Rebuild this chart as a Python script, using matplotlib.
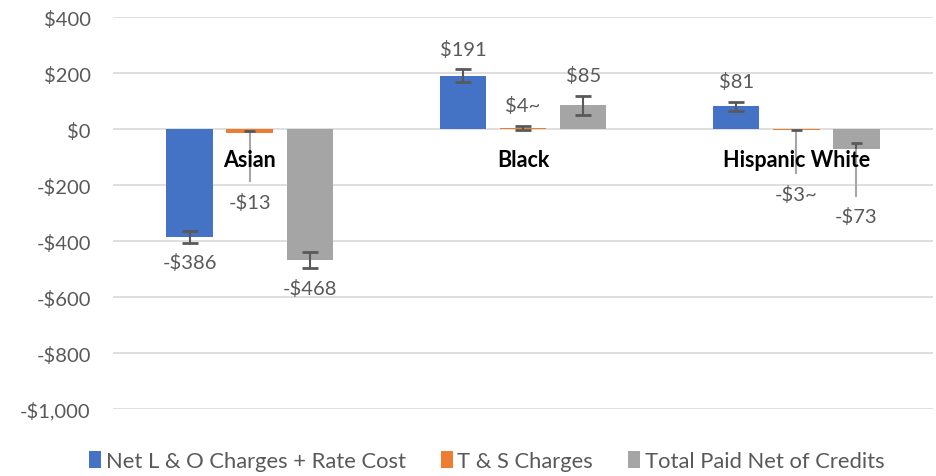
import numpy as np
import matplotlib.pyplot as plt

plt.rcParams['font.family'] = ['Lato', 'DejaVu Sans']

groups = ['Asian', 'Black', 'Hispanic White']
series = ['Net L & O Charges + Rate Cost', 'T & S Charges', 'Total Paid Net of Credits']
labels = [['-$386', '$191', '$81'],
          ['-$13', '$4~', '-$3~'],
          ['-$468', '$85', '-$73']]
values = [[-386, 191, 81],
          [-13, 4, -3],
          [-468, 85, -73]]
err_up = [[20, 22, 17],
          [5, 7, 1],
          [30, 34, 23]]
err_down = [[20, 22, 17],
            [177, 7, 158],
            [30, 34, 170]]
yticks = [400, 200, 0, -200, -400, -600, -800, -1000]
ytick_labels = ['$400', '$200', '$0', '-$200', '-$400', '-$600', '-$800', '-$1,000']

colors = ['#4472C4', '#ED7D31', '#A5A5A5']
text_c = '#595959'
cap_c = '#595959'
tail_c = '#A6A6A6'

fig = plt.figure(figsize=(9.36, 4.77), dpi=100)
ax = fig.add_axes([113 / 936, 1 - 410 / 477, 820 / 936, 392 / 477])

x = np.arange(len(groups))
offs = [-0.22, 0.0, 0.22]
w = 0.17
for s in range(3):
    xs = x + offs[s]
    ax.bar(xs, values[s], w, color=colors[s], label=series[s], zorder=2)
    for i in range(3):
        v = values[s][i]
        up = err_up[s][i]
        dn = err_down[s][i]
        if dn > 3 * up:
            # long lower tail without cap
            ax.vlines(xs[i], v - dn, v, color=tail_c, lw=1.5, zorder=3)
            ax.vlines(xs[i], v, v + up, color=cap_c, lw=1.5, zorder=3)
            ax.hlines(v + up, xs[i] - 0.02, xs[i] + 0.02, color=cap_c, lw=2, zorder=3)
        else:
            ax.errorbar(xs[i], v, yerr=[[dn], [up]], fmt='none', ecolor=cap_c,
                        elinewidth=1.5, capsize=6, capthick=2, zorder=3)
        top = v + up
        bot = v - dn
        if v >= 0:
            ax.annotate(labels[s][i], (xs[i], top), xytext=(0, 15), textcoords='offset points',
                        ha='center', va='center', fontsize=14.5, color=text_c)
        else:
            ax.annotate(labels[s][i], (xs[i], bot), xytext=(0, -14), textcoords='offset points',
                        ha='center', va='center', fontsize=14.5, color=text_c)

for i, g in enumerate(groups):
    ax.annotate(g, (x[i], 0), xytext=(0, -22), textcoords='offset points',
                ha='center', va='center', fontsize=15.5, fontweight='bold', color='black')

ax.set_xlim(-0.5, 2.5)
ax.set_ylim(-1000, 400)
ax.set_yticks(yticks)
ax.set_yticklabels(ytick_labels)
ax.set_xticks([])
ax.tick_params(axis='y', length=0, pad=16, labelsize=14.5, labelcolor=text_c)
ax.grid(axis='y', color='#D9D9D9', lw=1.2, zorder=0)
for sp in ax.spines.values():
    sp.set_visible(False)

fig.legend(loc='center', bbox_to_anchor=(0.52, 1 - 462 / 477), ncol=3, frameon=False,
           fontsize=15.8, labelcolor=text_c, handlelength=0.55, handleheight=0.8,
           handletextpad=0.2, columnspacing=1.6, borderpad=0)

fig.savefig('out.png', dpi=100)
